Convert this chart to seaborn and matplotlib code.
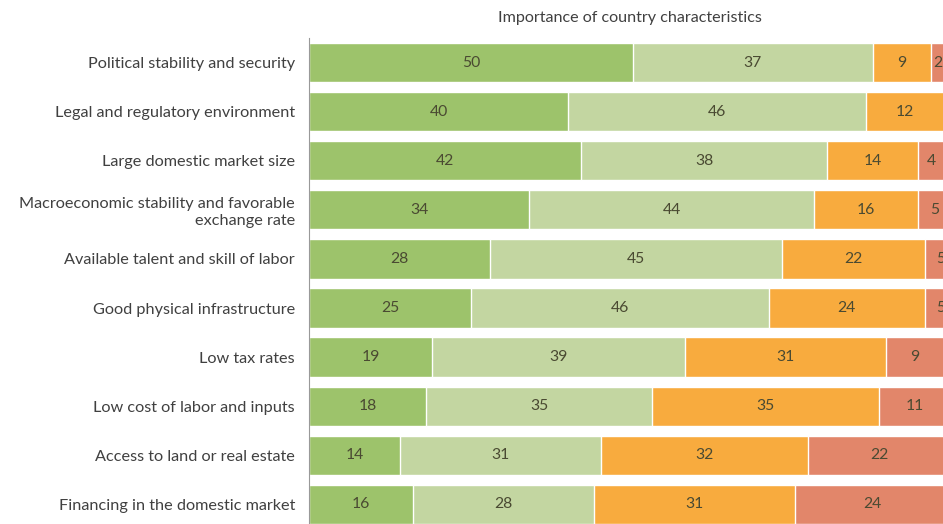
import numpy as np
import pandas as pd
import seaborn as sns
import matplotlib
matplotlib.use('Agg')
import matplotlib.pyplot as plt

categories = [
    "Political stability and security",
    "Legal and regulatory environment",
    "Large domestic market size",
    "Macroeconomic stability and favorable\nexchange rate",
    "Available talent and skill of labor",
    "Good physical infrastructure",
    "Low tax rates",
    "Low cost of labor and inputs",
    "Access to land or real estate",
    "Financing in the domestic market",
]
critically_important = [50, 40, 42, 34, 28, 25, 19, 18, 14, 16]
really_important = [37, 46, 38, 44, 45, 46, 39, 35, 31, 28]
somewhat_important = [9, 12, 14, 16, 22, 24, 31, 35, 32, 31]
not_important = [2, 2, 4, 5, 5, 5, 9, 11, 22, 24]

series = [critically_important, really_important, somewhat_important, not_important]
colors = ["#9dc36b", "#c3d6a1", "#f8ab3e", "#e2866a"]

sns.set_theme(style="white")
plt.rcParams['font.family'] = ['Lato', 'DejaVu Sans']

fig = plt.figure(figsize=(9.43, 5.24), dpi=100)
ax = fig.add_axes([309 / 943, -0.0095, 1 - 309 / 943, 0.937])

df = pd.DataFrame({"category": categories})
cum = np.cumsum(np.array(series), axis=0)

# draw cumulative bars from the longest down so they stack visually
for i in range(len(series) - 1, -1, -1):
    df["w"] = cum[i]
    sns.barplot(data=df, x="w", y="category", orient="h", color=colors[i],
                saturation=1, width=0.8, ax=ax)

for i, vals in enumerate(series):
    start = cum[i] - np.array(vals)
    for j, v in enumerate(vals):
        ax.text(start[j] + v / 2, j, str(v), ha="center", va="center",
                fontsize=11.3, color="#4a4a32")

ax.set_xlim(0, (943 - 309) / 6.48)
ax.set_ylim(9.5, -0.5)
ax.set_xlabel("")
ax.set_ylabel("")
ax.set_xticks([])
ax.tick_params(axis="y", which="major", length=0, pad=10, labelsize=11.7,
               labelcolor="#404040")
ax.set_yticks(np.arange(-0.5, 10, 1), minor=True)
ax.tick_params(axis="y", which="minor", direction="in", length=5, width=0.8,
               color="#999999")
sns.despine(ax=ax, top=True, right=True, bottom=True)
ax.spines["left"].set_color("#999999")
ax.spines["left"].set_linewidth(0.8)

fig.text(630 / 943, 1 - 18 / 524, "Importance of country characteristics",
         ha="center", va="center", fontsize=11.6, color="#404040")

plt.savefig("out.png", dpi=100)
plt.close()
